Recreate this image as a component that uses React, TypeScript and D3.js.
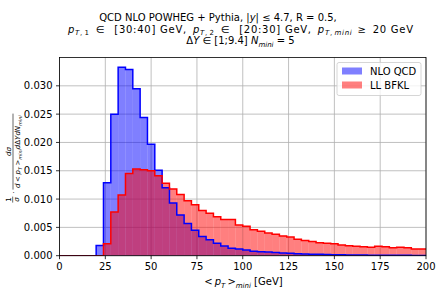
import React from 'react';
import * as d3 from 'd3';

// histogram bins: 4 GeV wide, first bin starts at 20 GeV
const binStart = 20;
const binWidth = 4;

const nloQcd = [
  0.0018, 0.0129, 0.025, 0.0333, 0.0329, 0.0295, 0.0244, 0.0197, 0.0151, 0.012,
  0.0093, 0.0072, 0.0057, 0.0045, 0.0034, 0.0028, 0.0022, 0.0017, 0.0013, 0.0012,
  0.001, 0.0008, 0.0007, 0.00064, 0.00058, 0.00048, 0.00042, 0.00036, 0.00031, 0.00027,
  0.00024, 0.00021, 0.00018, 0.00016, 0.00014, 0.00012, 0.00011, 0.0001, 0.00009, 0.00008,
  0.00007, 0.00006, 0.00006, 0.00005, 0.00005,
];

const llBfkl = [
  0, 0.0021, 0.0077, 0.0107, 0.0145, 0.0153, 0.0152, 0.015, 0.0141, 0.0128,
  0.0118, 0.0108, 0.0097, 0.009, 0.008, 0.0075, 0.0069, 0.0064, 0.0064, 0.0054,
  0.0052, 0.0046, 0.0043, 0.004, 0.0038, 0.0035, 0.0033, 0.0029, 0.0027, 0.0025,
  0.0023, 0.0022, 0.0021, 0.0019, 0.00175, 0.00165, 0.00158, 0.0015, 0.00165, 0.0016,
  0.0014, 0.0015, 0.0014, 0.0012, 0.0012,
];

const xTicks = [0, 25, 50, 75, 100, 125, 150, 175, 200];
const yTicks = [0, 0.005, 0.01, 0.015, 0.02, 0.025, 0.03];
const seriesNames = ['NLO QCD', 'LL BFKL'];
const seriesColors = ['blue', 'red'];

const W = 436;
const H = 291;
const plot = { left: 59.5, right: 426, top: 57.5, bottom: 255.7 };
const font = 'DejaVu Sans';

type Seg = { t: string; it?: boolean; sub?: boolean; gap?: number };

// mathtext-ish rich text: italic variables, lowered subscripts, extra math spacing
function rich(segs: Seg[], size: number, subShift = 0.25) {
  let shift = 0;
  return segs.map((s, i) => {
    const want = s.sub ? size * subShift : 0;
    const dy = want - shift;
    shift = want;
    return (
      <tspan key={i} dx={s.gap || undefined} dy={dy || undefined} fontStyle={s.it ? 'italic' : undefined}
        fontSize={s.sub ? size * 0.7 : undefined}>{s.t}</tspan>
    );
  });
}

const titleLines: Seg[][] = [
  [{ t: 'QCD NLO POWHEG + Pythia, |' }, { t: 'y', it: true }, { t: '| ≤ 4.7, R = 0.5,' }],
  [
    { t: 'p', it: true }, { t: 'T', it: true, sub: true }, { t: ',', sub: true }, { t: '1', sub: true, gap: 1.5 },
    { t: '∈', gap: 6 }, { t: '[30:40] GeV,', gap: 9 },
    { t: 'p', it: true, gap: 6 }, { t: 'T', it: true, sub: true }, { t: ',', sub: true }, { t: '2', sub: true, gap: 1.5 },
    { t: '∈', gap: 6 }, { t: '[20:30] GeV,', gap: 9 },
    { t: 'p', it: true, gap: 6 }, { t: 'T', it: true, sub: true }, { t: ',', sub: true }, { t: 'mini', it: true, sub: true, gap: 1.5 },
    { t: '≥', gap: 5 }, { t: '20 GeV', gap: 6 },
  ],
  [{ t: 'Δ' }, { t: 'Y', it: true }, { t: ' ∈ [1;9.4] ' }, { t: 'N', it: true }, { t: 'mini', it: true, sub: true }, { t: ' = 5' }],
];

const xLabel: Seg[] = [
  { t: '<' }, { t: 'p', it: true, gap: 2 }, { t: 'T', it: true, sub: true }, { t: '>', gap: 2 },
  { t: 'mini', it: true, sub: true }, { t: ' [GeV]' },
];

const yLabelDen: Seg[] = [
  { t: 'd', it: true }, { t: '<', gap: 1.5 }, { t: 'p', it: true, gap: 1.5 }, { t: 'T', it: true, sub: true },
  { t: '>', gap: 1.5 }, { t: 'mini', it: true, sub: true }, { t: 'd', it: true }, { t: 'Δ' },
  { t: 'YdN', it: true }, { t: 'mini', it: true, sub: true },
];

export default function App() {
  const x = d3.scaleLinear().domain([0, 200]).range([plot.left, plot.right]);
  const y = d3.scaleLinear().domain([0, 0.035]).range([plot.bottom, plot.top]);

  const edge = (i: number) => binStart + i * binWidth;

  const stepLine = (vals: number[]) => {
    const pts: [number, number][] = [[0, 0], [binStart, 0]];
    vals.forEach((v, i) => {
      pts.push([edge(i), v]);
      pts.push([edge(i + 1), v]);
    });
    return d3.line<[number, number]>().x(d => x(d[0])).y(d => y(d[1]))(pts) || '';
  };

  const bars = (vals: number[], color: string) =>
    vals.map((v, i) => (
      <rect key={i} x={x(edge(i))} width={x(edge(i + 1)) - x(edge(i))}
        y={y(v)} height={y(0) - y(v)} fill={color} fillOpacity={0.5} />
    ));

  return (
    <svg width={W} height={H} style={{ position: 'absolute', left: 0, top: 0 }}
      fontFamily={font} fontSize={10}>
      <rect width={W} height={H} fill="white" />
      <defs>
        <clipPath id="plotClip">
          <rect x={plot.left} y={plot.top} width={plot.right - plot.left} height={plot.bottom - plot.top} />
        </clipPath>
      </defs>

      {/* grid */}
      <g stroke="#b0b0b0" strokeWidth={0.8}>
        {xTicks.map(t => <line key={t} x1={x(t)} x2={x(t)} y1={plot.top} y2={plot.bottom} />)}
        {yTicks.map(t => <line key={t} x1={plot.left} x2={plot.right} y1={y(t)} y2={y(t)} />)}
      </g>

      <g clipPath="url(#plotClip)">
        {bars(nloQcd, seriesColors[0])}
        {bars(llBfkl, seriesColors[1])}
        <path d={stepLine(nloQcd)} fill="none" stroke={seriesColors[0]} strokeWidth={1.5} />
        <path d={stepLine(llBfkl)} fill="none" stroke={seriesColors[1]} strokeWidth={1.5} />
      </g>

      {/* frame */}
      <rect x={plot.left} y={plot.top} width={plot.right - plot.left} height={plot.bottom - plot.top}
        fill="none" stroke="black" strokeWidth={0.8} />

      {/* x axis */}
      {xTicks.map(t => (
        <g key={t}>
          <line x1={x(t)} x2={x(t)} y1={plot.bottom} y2={plot.bottom + 3.5} stroke="black" strokeWidth={0.8} />
          <text x={x(t)} y={plot.bottom + 14.5} textAnchor="middle">{t}</text>
        </g>
      ))}
      <text x={243.5} y={285} textAnchor="middle">{rich(xLabel, 10)}</text>

      {/* y axis */}
      {yTicks.map(t => (
        <g key={t}>
          <line x1={plot.left - 3.5} x2={plot.left} y1={y(t)} y2={y(t)} stroke="black" strokeWidth={0.8} />
          <text x={plot.left - 7} y={y(t) + 3.6} textAnchor="end">{d3.format('.3f')(t)}</text>
        </g>
      ))}
      <g transform={`translate(14,${(plot.top + plot.bottom) / 2}) rotate(-90)`} fontSize={7}>
        <text x={-43} y={-3.5} textAnchor="middle">1</text>
        <line x1={-46} x2={-40} y1={-1.3} y2={-1.3} stroke="black" strokeWidth={0.6} />
        <text x={-43} y={5} textAnchor="middle" fontStyle="italic">σ</text>
        <text x={-37} y={1.5}>·</text>
        <text x={5} y={-3} textAnchor="middle" fontStyle="italic">dσ</text>
        <line x1={-33} x2={43} y1={-1} y2={-1} stroke="black" strokeWidth={0.6} />
        <text x={5} y={6} textAnchor="middle">{rich(yLabelDen, 7)}</text>
      </g>

      {/* title */}
      <text x={218} y={20.5} textAnchor="middle">{rich(titleLines[0], 10)}</text>
      <text x={240.5} y={32.5} textAnchor="middle" textLength={345} lengthAdjust="spacing">{rich(titleLines[1], 10, 0.2)}</text>
      <text x={240.5} y={44} textAnchor="middle">{rich(titleLines[2], 10)}</text>

      {/* legend */}
      <rect x={337} y={62.5} width={84} height={33} rx={2} fill="white" fillOpacity={0.8} stroke="#cccccc" strokeWidth={0.8} />
      {seriesNames.map((name, i) => (
        <g key={name}>
          <rect x={342} y={67.5 + i * 14} width={20} height={7} fill={seriesColors[i]} fillOpacity={0.5} />
          <text x={370} y={74.5 + i * 14}>{name}</text>
        </g>
      ))}
    </svg>
  );
}
